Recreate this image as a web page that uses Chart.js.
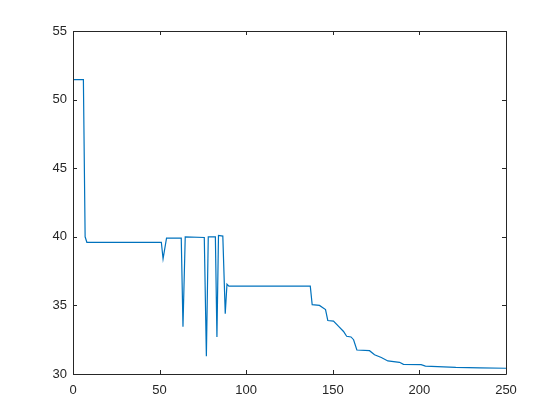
<!DOCTYPE html>
<html>
<head>
<meta charset="utf-8">
<script src="https://cdn.jsdelivr.net/npm/chart.js@4"></script>
<style>
  html, body { margin: 0; padding: 0; background: #fff; }
  canvas { display: block; }
</style>
</head>
<body>
<canvas id="myChart" width="560" height="420"></canvas>
<script>
// valeurs
var iterations = [0, 6, 7, 8, 51, 52, 54, 62.5, 63.5, 64.8, 75.8, 77, 78.1, 82.2, 83.1, 84, 86.5, 87.9, 88.9, 90,
  137, 138.1, 142.3, 145.8, 147.1, 150.4, 153.5, 156.2, 158, 160.5, 162, 163.9, 171.2, 174.1, 178, 181.8,
  188.5, 190.8, 201, 203.5, 221, 235, 250];
var valeurs = [51.45, 51.45, 40.0, 39.6, 39.6, 38.4, 39.9, 39.9, 33.45, 40.0, 39.95, 31.3, 40.0, 40.0, 32.7, 40.1, 40.05, 34.4, 36.55, 36.4,
  36.4, 35.05, 35.0, 34.7, 33.9, 33.85, 33.45, 33.1, 32.75, 32.7, 32.5, 31.75, 31.7, 31.4, 31.2, 30.95,
  30.85, 30.7, 30.68, 30.58, 30.48, 30.44, 30.42];
var ticksX = [0, 50, 100, 150, 200, 250];
var ticksY = [30, 35, 40, 45, 50, 55];

var points = [];
for (var i = 0; i < iterations.length; i++) {
  points.push({ x: iterations[i], y: valeurs[i] });
}

var couleurAxe = '#262626';

// cadre + graduations vers l'intérieur (style MATLAB)
var cadre = {
  id: 'cadre',
  afterDraw: function (chart) {
    var c = chart.ctx, a = chart.chartArea;
    var sx = chart.scales.x, sy = chart.scales.y;
    c.save();
    c.strokeStyle = couleurAxe;
    c.lineWidth = 1;
    c.beginPath();
    c.rect(Math.round(a.left) + 0.5, Math.round(a.top) + 0.5, Math.round(a.right - a.left), Math.round(a.bottom - a.top));
    ticksX.forEach(function (t) {
      var px = Math.round(sx.getPixelForValue(t)) + 0.5;
      c.moveTo(px, a.bottom); c.lineTo(px, a.bottom - 4);
      c.moveTo(px, a.top); c.lineTo(px, a.top + 4);
    });
    ticksY.forEach(function (t) {
      var py = Math.round(sy.getPixelForValue(t)) + 0.5;
      c.moveTo(a.left, py); c.lineTo(a.left + 4, py);
      c.moveTo(a.right, py); c.lineTo(a.right - 4, py);
    });
    c.stroke();
    c.restore();
  }
};

new Chart(document.getElementById('myChart'), {
  type: 'line',
  data: {
    datasets: [{
      data: points,
      borderColor: '#0072BD',
      borderWidth: 1.2,
      pointRadius: 0,
      tension: 0,
      fill: false
    }]
  },
  options: {
    responsive: false,
    animation: false,
    layout: { padding: { top: 31, right: 54, left: 0, bottom: 0 } },
    plugins: { legend: { display: false }, tooltip: { enabled: false } },
    scales: {
      x: {
        type: 'linear',
        min: 0, max: 250,
        afterFit: function (s) { s.height = 46; },
        afterBuildTicks: function (s) { s.ticks = ticksX.map(function (v) { return { value: v }; }); },
        grid: { display: false, drawTicks: false },
        border: { display: false },
        ticks: { color: couleurAxe, padding: 9, maxRotation: 0, font: { family: 'Liberation Sans, Arial, sans-serif', size: 13 } }
      },
      y: {
        type: 'linear',
        min: 30, max: 55,
        afterFit: function (s) { s.width = 73; },
        afterBuildTicks: function (s) { s.ticks = ticksY.map(function (v) { return { value: v }; }); },
        grid: { display: false, drawTicks: false },
        border: { display: false },
        ticks: { color: couleurAxe, padding: 6, font: { family: 'Liberation Sans, Arial, sans-serif', size: 13 } }
      }
    }
  },
  plugins: [cadre]
});
</script>
</body>
</html>
